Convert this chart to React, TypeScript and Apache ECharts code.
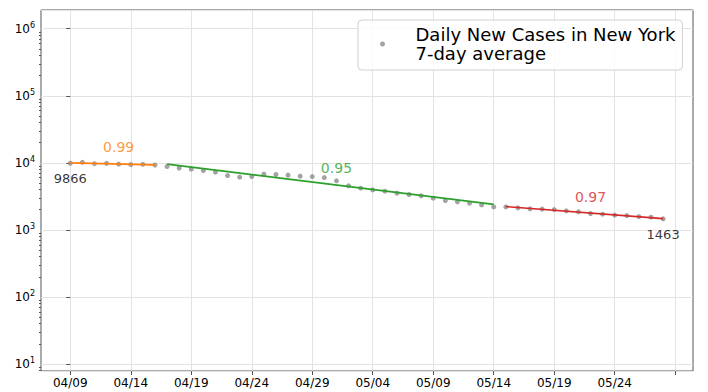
import React, { useEffect, useRef } from "react";
import * as echarts from "echarts";

// ---- data ----
const DATES = [
  "04/09", "04/10", "04/11", "04/12", "04/13", "04/14", "04/15", "04/16",
  "04/17", "04/18", "04/19", "04/20", "04/21", "04/22", "04/23", "04/24",
  "04/25", "04/26", "04/27", "04/28", "04/29", "04/30", "05/01", "05/02",
  "05/03", "05/04", "05/05", "05/06", "05/07", "05/08", "05/09", "05/10",
  "05/11", "05/12", "05/13", "05/14", "05/15", "05/16", "05/17", "05/18",
  "05/19", "05/20", "05/21", "05/22", "05/23", "05/24", "05/25", "05/26",
  "05/27", "05/28",
];
const CASES_7DAY = [
  9866, 10170, 9710, 9830, 9560, 9420, 9500, 9290,
  8810, 8340, 8050, 7680, 7270, 6460, 6120, 6240,
  6780, 6690, 6550, 6330, 6240, 6030, 5390, 4540,
  4190, 3950, 3780, 3530, 3370, 3220, 2970, 2740,
  2620, 2500, 2360, 2200, 2200, 2130, 2060, 2040,
  2010, 1920, 1860, 1750, 1715, 1660, 1635, 1580,
  1547, 1463,
];
const FIT1_DATES = ["04/09", "04/16"];
const FIT1_VALUES = [9990, 9300];
const FIT2_DATES = ["04/17", "05/14"];
const FIT2_VALUES = [9560, 2400];
const FIT3_DATES = ["05/15", "05/28"];
const FIT3_VALUES = [2230, 1470];

const TICK_DATES = ["04/09", "04/14", "04/19", "04/24", "04/29", "05/04", "05/09", "05/14", "05/19", "05/24", "05/29"];
const LABEL_DATES = ["04/09", "04/14", "04/19", "04/24", "04/29", "05/04", "05/09", "05/14", "05/19", "05/24"];

const NOTE_TEXTS = ["9866", "0.99", "0.95", "0.97", "1463"];
const NOTE_DATES = ["04/09", "04/13", "05/01", "05/22", "05/28"];
const NOTE_VALUES = [5871, 17340, 8420, 3108, 851];

const LEGEND_LINES = ["Daily New Cases in New York", "7-day average"];
const LEGEND_NAME = LEGEND_LINES.join("\n");

// ---- styles ----
const FONT = "DejaVu Sans";
const C_ORANGE = "#ff7f0e";
const C_GREEN = "#2ca02c";
const C_RED = "#d62728";
const C_DOT = "#8c8c8c";
const NOTE_COLORS = ["#000000", C_ORANGE, C_GREEN, C_RED, "#000000"];
const NOTE_SIZES = [13, 14, 14, 14, 13];

const BASE = Date.UTC(2020, 3, 9);
const DAY = 86400000;
const dayIndex = (s: string) => {
  const [m, d] = s.split("/").map(Number);
  return Math.round((Date.UTC(2020, m - 1, d) - BASE) / DAY);
};
const fmtDay = (v: number) => {
  const dt = new Date(BASE + Math.round(v) * DAY);
  const mm = String(dt.getUTCMonth() + 1).padStart(2, "0");
  const dd = String(dt.getUTCDate()).padStart(2, "0");
  return `${mm}/${dd}`;
};

const Y_MIN = 7.865;
const Y_MAX = 1.901e6;
const LOG_MIN = Math.log10(Y_MIN);
const LOG_MAX = Math.log10(Y_MAX);
const MINOR_TICKS: number[] = [];
for (let e = 0; e <= 6; e++) {
  for (let k = 2; k <= 9; k++) {
    const l = Math.log10(k * Math.pow(10, e));
    if (l > LOG_MIN && l < LOG_MAX) MINOR_TICKS.push(l);
  }
}

export default function App() {
  const ref = useRef<HTMLDivElement>(null);
  useEffect(() => {
    if (!ref.current) return;
    const chart = echarts.init(ref.current, null, { renderer: "svg" });
    const pts = DATES.map((d, i) => [dayIndex(d), CASES_7DAY[i]]);
    const fit = (ds: string[], vs: number[]) => ds.map((d, i) => [dayIndex(d), vs[i]]);
    const notes = NOTE_TEXTS.map((t, i) => ({
      value: [dayIndex(NOTE_DATES[i]), NOTE_VALUES[i]],
      label: { formatter: t, color: NOTE_COLORS[i], fontSize: NOTE_SIZES[i] },
    }));
    chart.setOption({
      animation: false,
      backgroundColor: "#ffffff",
      textStyle: { fontFamily: FONT },
      grid: {
        left: 41,
        right: 15,
        top: 10,
        bottom: 21,
        show: true,
        borderColor: "#555555",
        borderWidth: 1,
        backgroundColor: "transparent",
      },
      legend: {
        left: 358,
        top: 20,
        orient: "vertical",
        data: [{ name: LEGEND_NAME, icon: "circle" }],
        itemWidth: 34,
        itemHeight: 5,
        padding: [5, 7, 7, 22],
        backgroundColor: "rgba(255,255,255,0.85)",
        borderColor: "#d0d0d0",
        borderWidth: 1,
        borderRadius: 4,
        formatter: () => LEGEND_LINES.map((l) => `{t|${l}}`).join("\n"),
        textStyle: {
          fontFamily: FONT,
          fontSize: 18,
          lineHeight: 19,
          color: "#000000",
          rich: {
            t: {
              fontFamily: FONT,
              fontSize: 18,
              lineHeight: 19,
              color: "#000000",
              padding: [0, 0, 0, 11],
            },
          },
        },
      },
      xAxis: {
        type: "value",
        min: -2.42,
        max: 51.47,
        axisLine: { show: false },
        axisTick: {
          show: true,
          length: 4,
          customValues: TICK_DATES.map(dayIndex),
          lineStyle: { color: "#555555" },
        },
        axisLabel: {
          customValues: LABEL_DATES.map(dayIndex),
          formatter: (v: number) => fmtDay(v),
          fontFamily: FONT,
          fontSize: 12,
          color: "#000000",
          margin: 6,
        },
        splitLine: { show: true, lineStyle: { color: "#e3e3e3", width: 1 } },
      },
      yAxis: [
        {
          type: "log",
          logBase: 10,
          min: Y_MIN,
          max: Y_MAX,
          axisLine: { show: false },
          axisTick: { show: true, length: 4, lineStyle: { color: "#555555" } },
          axisLabel: {
            showMinLabel: false,
            showMaxLabel: false,
            margin: 6,
            formatter: (v: number) => `{b|10}{s|${Math.round(Math.log10(v))}}`,
            rich: {
              b: { fontFamily: FONT, fontSize: 12, color: "#000000" },
              s: { fontFamily: FONT, fontSize: 8, color: "#000000", padding: [0, 0, 7, 0] },
            },
          },
          splitLine: { show: true, lineStyle: { color: "#e3e3e3", width: 1 } },
        },
        {
          type: "value",
          min: LOG_MIN,
          max: LOG_MAX,
          position: "left",
          axisLine: { show: false },
          axisLabel: { show: false },
          splitLine: { show: false },
          axisTick: {
            show: true,
            length: 2,
            customValues: MINOR_TICKS,
            lineStyle: { color: "#555555" },
          },
        },
      ],
      series: [
        {
          name: LEGEND_NAME,
          type: "scatter",
          data: pts,
          symbol: "circle",
          symbolSize: 5,
          itemStyle: { color: C_DOT },
          z: 2,
        },
        {
          type: "line",
          data: fit(FIT1_DATES, FIT1_VALUES),
          showSymbol: false,
          lineStyle: { color: C_ORANGE, width: 1.8 },
          z: 3,
        },
        {
          type: "line",
          data: fit(FIT2_DATES, FIT2_VALUES),
          showSymbol: false,
          lineStyle: { color: C_GREEN, width: 1.6 },
          z: 3,
        },
        {
          type: "line",
          data: fit(FIT3_DATES, FIT3_VALUES),
          showSymbol: false,
          lineStyle: { color: C_RED, width: 1.6 },
          z: 3,
        },
        {
          type: "scatter",
          data: notes,
          symbolSize: 0,
          silent: true,
          label: {
            show: true,
            position: "inside",
            fontFamily: FONT,
          },
          z: 4,
        },
      ],
    });
    return () => chart.dispose();
  }, []);
  return (
    <div
      ref={ref}
      style={{ position: "absolute", left: 0, top: 0, width: 708, height: 392 }}
    />
  );
}
